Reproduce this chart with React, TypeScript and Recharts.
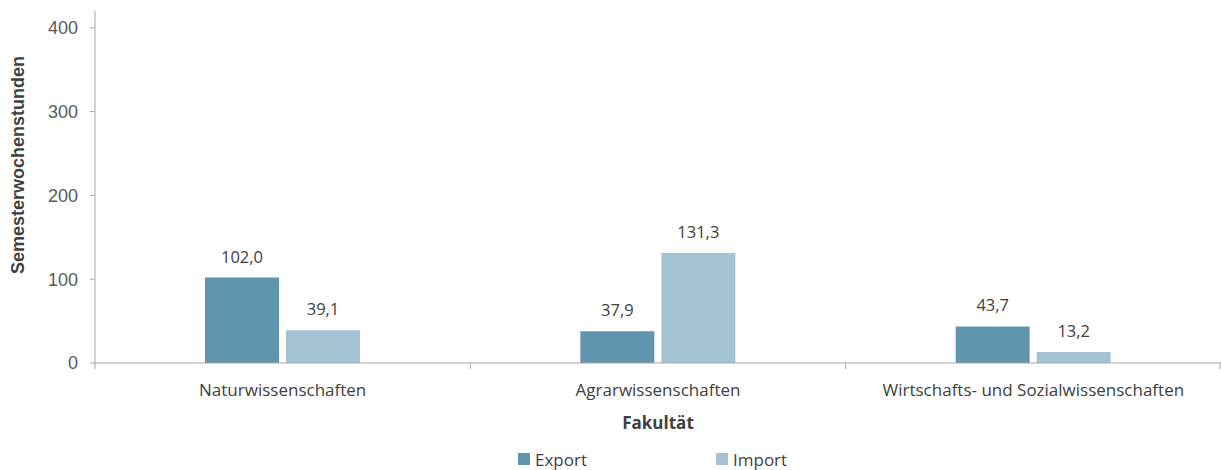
import { BarChart, Bar, XAxis, YAxis, Legend, LabelList, Label } from 'recharts'

const faculties = ['Naturwissenschaften', 'Agrarwissenschaften', 'Wirtschafts- und Sozialwissenschaften']
const exportValues = [102.0, 37.9, 43.7]
const importValues = [39.1, 131.3, 13.2]
const yTicks = [0, 100, 200, 300, 400]

const W = 1221
const H = 470
const LEFT = 95
const BAND = (W - LEFT) / faculties.length

const EXPORT_COLOR = '#6096ad'
const IMPORT_COLOR = '#a3c3d5'
const AXIS_COLOR = '#a6a6a6'
const SEGOE = '"Open Sans", "Noto Sans", sans-serif'
const ARIAL = '"Liberation Sans", Arial, sans-serif'

const data = faculties.map((name, i) => ({ name, Export: exportValues[i], Import: importValues[i] }))

const fmt = (v: number) => v.toFixed(1).replace('.', ',')

function CategoryTick(props: any) {
  const { x, y, payload, index } = props
  const left = x - BAND / 2
  return (
    <g>
      <line x1={left} x2={left} y1={y} y2={y + 6} stroke={AXIS_COLOR} />
      {index === faculties.length - 1 && (
        <line x1={x + BAND / 2 - 1} x2={x + BAND / 2 - 1} y1={y} y2={y + 6} stroke={AXIS_COLOR} />
      )}
      <text x={x} y={y + 33} textAnchor="middle" fill="#404040" fontSize={17} fontFamily={SEGOE}>
        {payload.value}
      </text>
    </g>
  )
}

function LegendContent() {
  const items = [
    { name: 'Export', color: EXPORT_COLOR },
    { name: 'Import', color: IMPORT_COLOR },
  ]
  return (
    <div style={{ position: 'relative', height: 22 }}>
      {items.map((it, i) => (
        <div
          key={it.name}
          style={{
            position: 'absolute',
            left: 518 + i * 198,
            top: 0,
            height: 22,
            display: 'flex',
            alignItems: 'center',
            fontFamily: SEGOE,
            fontSize: 17,
            color: '#404040',
          }}
        >
          <span style={{ width: 12, height: 12, background: it.color, marginRight: 5, display: 'inline-block' }} />
          {it.name}
        </div>
      ))}
    </div>
  )
}

export default function App() {
  return (
    <div style={{ position: 'absolute', left: 0, top: 0, background: '#fff' }}>
      <BarChart
        width={W}
        height={H}
        data={data}
        margin={{ top: 11, right: 0, bottom: 0, left: 0 }}
        barCategoryGap={110}
        barGap={7}
      >
        <XAxis
          dataKey="name"
          stroke={AXIS_COLOR}
          tickLine={false}
          tickSize={0}
          tickMargin={0}
          height={85}
          tick={<CategoryTick />}
          interval={0}
        >
          <Label
            value="Fakultät"
            position="insideTop"
            offset={54}
            fill="#404040"
            fontSize={17}
            fontWeight="bold"
            fontFamily={SEGOE}
          />
        </XAxis>
        <YAxis
          width={LEFT}
          domain={[0, 420]}
          ticks={yTicks}
          stroke={AXIS_COLOR}
          tickSize={5}
          tickMargin={12}
          tick={{ fill: '#595959', fontSize: 18, fontFamily: ARIAL }}
        >
          <Label
            content={({ viewBox }: any) => {
              const cx = viewBox.x + 18
              const cy = viewBox.y + viewBox.height / 2 - 22
              return (
                <text
                  x={cx}
                  y={cy}
                  transform={`rotate(-90, ${cx}, ${cy})`}
                  textAnchor="middle"
                  dominantBaseline="central"
                  fill="#404040"
                  fontSize={18}
                  fontWeight="bold"
                  fontFamily={ARIAL}
                >
                  Semesterwochenstunden
                </text>
              )
            }}
          />
        </YAxis>
        <Legend verticalAlign="bottom" height={22} content={<LegendContent />} />
        <Bar dataKey="Export" fill={EXPORT_COLOR} isAnimationActive={false}>
          <LabelList dataKey="Export" position="top" offset={15} formatter={(v: any) => fmt(Number(v))} fill="#404040" fontSize={16.5} fontFamily={SEGOE} />
        </Bar>
        <Bar dataKey="Import" fill={IMPORT_COLOR} isAnimationActive={false}>
          <LabelList dataKey="Import" position="top" offset={15} formatter={(v: any) => fmt(Number(v))} fill="#404040" fontSize={16.5} fontFamily={SEGOE} />
        </Bar>
      </BarChart>
    </div>
  )
}
